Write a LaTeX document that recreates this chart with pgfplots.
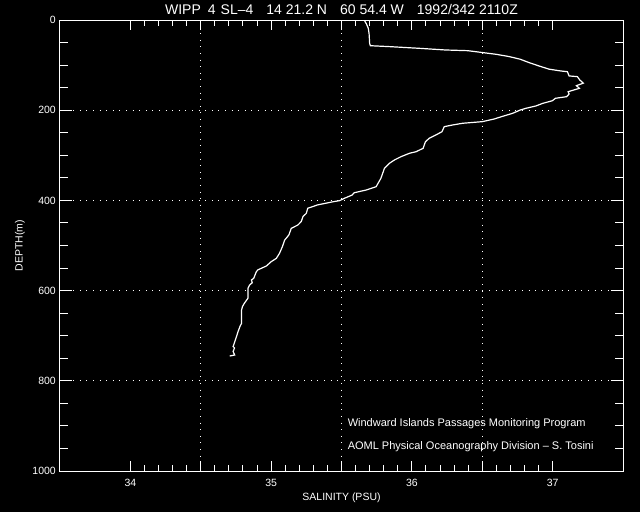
\documentclass[border=0pt]{standalone}
\usepackage{fontspec}
\setmainfont{Liberation Sans}
\usepackage{pgfplots}
\pgfplotsset{compat=1.18}
\begin{document}
\begin{tikzpicture}
\useasboundingbox (0,0) rectangle (640bp,512bp);
\fill[black] (0,0) rectangle (640bp,512bp);
\begin{axis}[
  scale only axis, width=563bp, height=451bp,
  at={(60bp,41bp)}, anchor=south west,
  xmin=33.5, xmax=37.5, ymin=0, ymax=1000, y dir=reverse,
  xtick={34,35,36,37}, ytick={0,200,400,600,800,1000},
  minor x tick num=9, minor y tick num=3,
  axis line style={white, line width=1bp},
  every tick/.style={white, line width=1bp},
  major tick length=12bp, minor tick length=8bp,
  xtick style={/pgfplots/major tick length=10bp, /pgfplots/minor tick length=6bp},
  ymajorgrids,
  grid style={white, line width=1bp, dash pattern=on 1bp off 5.6bp},
  extra x ticks={34.5,35.5,36.5}, extra x tick labels={},
  extra x tick style={xmajorgrids=true, /pgfplots/major tick length=6bp},
  /pgf/number format/assume math mode=true,
  /pgf/number format/1000 sep={},
  tick label style={white, font=\fontsize{10.5bp}{12bp}\selectfont},
  xticklabel style={anchor=base, inner sep=0pt, yshift=-15.5bp},
  yticklabel style={anchor=east, inner sep=0pt, xshift=-4bp},
  xlabel={SALINITY (PSU)},
  xlabel style={white, font=\fontsize{10.5bp}{12bp}\selectfont, at={(axis description cs:0.5,0)}, anchor=base, inner sep=0pt, yshift=-29.5bp},
  ylabel={DEPTH(m)},
  ylabel style={white, font=\fontsize{10.5bp}{12bp}\selectfont, at={(axis description cs:0,0.5)}, anchor=center, inner sep=0pt, xshift=0pt, yshift=40bp},
  title={WIPP\hspace{7bp}4\hspace{5bp}SL--4\hspace{13bp}14 21.2 N\hspace{13bp}60 54.4 W\hspace{13bp}1992/342 2110Z},
  title style={white, font=\fontsize{14bp}{16bp}\selectfont, at={(axis description cs:0.5,1)}, anchor=base, inner sep=0pt, yshift=0pt},
]
\addplot[white, line width=1.2bp, mark=none] coordinates {
(35.663,0) (35.668,4) (35.676,8) (35.690,18) (35.696,30) (35.700,52) (35.705,57)
(35.84,59) (36.065,63) (36.24,66.5) (36.396,68) (36.49,71.7) (36.597,76) (36.69,81)
(36.77,87) (36.833,94.5) (36.904,102) (36.975,109) (37.058,113) (37.105,114.6)
(37.117,124) (37.176,125.6) (37.193,133) (37.218,140) (37.169,145.6) (37.19,151.5)
(37.11,159) (37.117,164) (37.10,170) (37.02,173.6) (36.998,179) (36.93,184.8)
(36.88,190.7) (36.81,195.8) (36.77,199.6) (36.715,207) (36.64,214) (36.585,219.5)
(36.50,225.4) (36.36,229) (36.289,232.8) (36.23,236.5) (36.214,247.6) (36.17,255)
(36.124,262) (36.096,270) (36.08,284.5) (36.03,292) (35.982,295.6) (35.923,303)
(35.876,310.4) (35.84,317.8) (35.805,328.9) (35.78,351) (35.746,369.6) (35.675,377)
(35.59,383) (35.576,388) (35.52,395.4) (35.486,400.6) (35.44,403) (35.33,410)
(35.26,417.5) (35.25,428.6) (35.226,436) (35.214,447) (35.19,454.5) (35.143,462)
(35.126,476.7) (35.096,488) (35.08,502.6) (35.06,517) (35.037,528.5) (35.0,536)
(34.966,545.5) (34.93,550.6) (34.906,554) (34.895,558) (34.876,572.8) (34.86,576.5)
(34.866,582.5) (34.847,587.6) (34.835,595) (34.835,617) (34.81,628) (34.796,635.6)
(34.79,643) (34.79,672.5) (34.78,678.5) (34.765,691) (34.746,709.5) (34.73,724)
(34.74,727) (34.73,735) (34.741,742.8) (34.706,745)
};
\node[white, anchor=west, inner sep=0pt, font=\fontsize{11bp}{13bp}\selectfont] at (axis cs:35.543,896) {Windward Islands Passages Monitoring Program};
\node[white, anchor=west, inner sep=0pt, font=\fontsize{11bp}{13bp}\selectfont] at (axis cs:35.543,946) {AOML Physical Oceanography Division -- S. Tosini};
\end{axis}
\end{tikzpicture}
\end{document}
